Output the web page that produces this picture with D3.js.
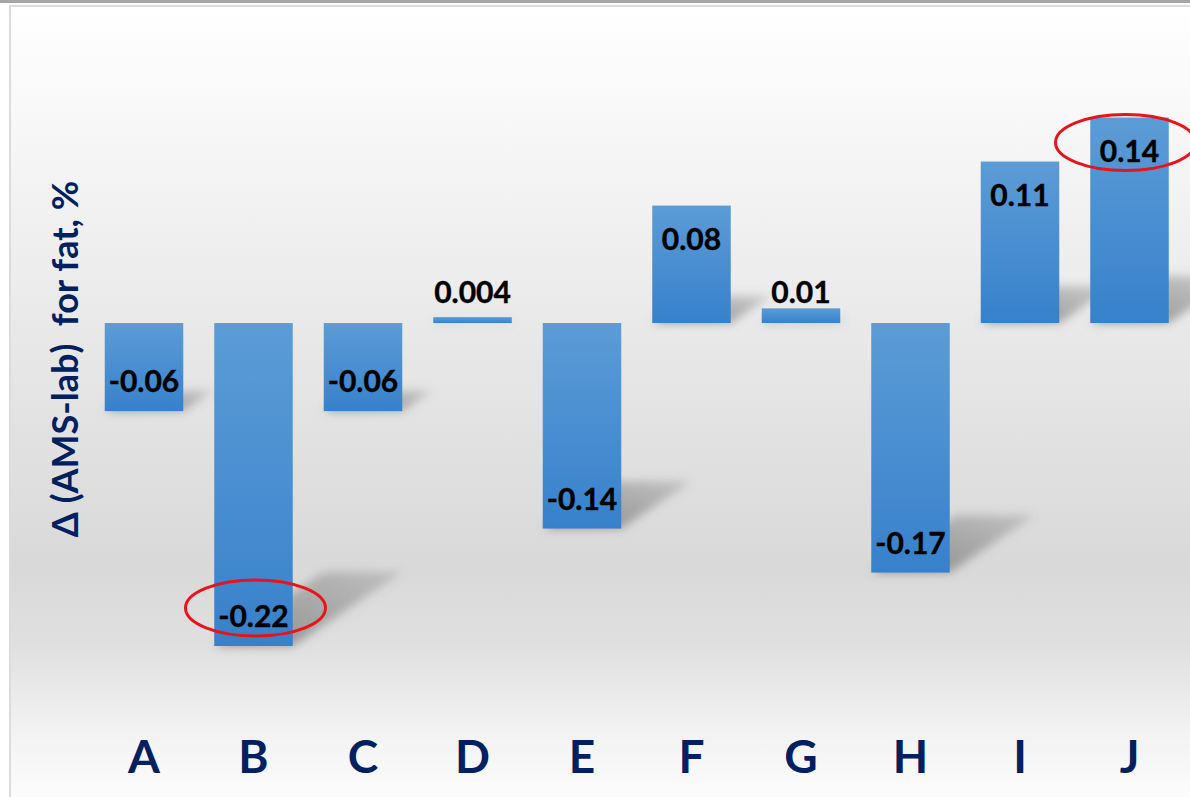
<!DOCTYPE html>
<html><head><meta charset="utf-8">
<script src="https://cdn.jsdelivr.net/npm/d3@7"></script>
<style>
html,body{margin:0;padding:0;background:#fff;overflow:hidden}
svg{display:block}
</style></head>
<body>
<svg id="chart" width="1190" height="797"></svg>
<script>
const categories = ["A","B","C","D","E","F","G","H","I","J"];
const values = [-0.06,-0.22,-0.06,0.004,-0.14,0.08,0.01,-0.17,0.11,0.14];
const valueLabels = ["-0.06","-0.22","-0.06","0.004","-0.14","0.08","0.01","-0.17","0.11","0.14"];
const highlighted = ["B","J"];
const yTitle = "\u0394 (AMS-lab)\u00a0\u00a0for fat, %";

const W = 1190, H = 797;
const svg = d3.select("#chart");
const defs = svg.append("defs");

// background gradient
const bg = defs.append("linearGradient").attr("id","bg").attr("x1",0).attr("y1",0).attr("x2",0).attr("y2",1);
[[0,"#ffffff"],[0.12,"#f9f9f9"],[0.4,"#e9e9e9"],[0.7,"#d9d9d9"],[0.8,"#dfdfdf"],[0.9,"#f1f1f1"],[1,"#fdfdfd"]]
  .forEach(([o,c])=>bg.append("stop").attr("offset",o).attr("stop-color",c));

const barG = defs.append("linearGradient").attr("id","barg").attr("x1",0).attr("y1",0).attr("x2",0).attr("y2",1);
barG.append("stop").attr("offset",0).attr("stop-color","#5c9cd6");
barG.append("stop").attr("offset",1).attr("stop-color","#3781cb");

const shG = defs.append("linearGradient").attr("id","shg").attr("x1",0).attr("y1",1).attr("x2",1).attr("y2",0);
shG.append("stop").attr("offset",0).attr("stop-color","#707070").attr("stop-opacity",0.75);
shG.append("stop").attr("offset",1).attr("stop-color","#707070").attr("stop-opacity",0.25);

const blur = defs.append("filter").attr("id","blur").attr("x","-30%").attr("y","-30%").attr("width","160%").attr("height","160%");
blur.append("feGaussianBlur").attr("stdDeviation",5);

// frame
svg.append("rect").attr("x",0).attr("y",0).attr("width",W).attr("height",3).attr("fill","#a6a6a6");
svg.append("rect").attr("x",10).attr("y",6).attr("width",W).attr("height",H).attr("fill","url(#bg)")
  .attr("stroke","#dcdcdc").attr("stroke-width",2);

// scales
const x = d3.scaleBand().domain(categories).range([89.25,1184.25]).paddingInner(0.283).paddingOuter(0.1415);
const y = d3.scaleLinear().domain([-0.22,0.14]).range([646,117.5]);
const y0 = y(0);

const data = categories.map((c,i)=>({c, v:values[i], label:valueLabels[i]}));

// shadows
const k = 0.23, s = 0.34;
svg.append("g").attr("filter","url(#blur)").selectAll("path").data(data).join("path")
  .attr("d", d=>{
    const x0 = x(d.c), x1 = x0 + x.bandwidth();
    const h = Math.abs(y(d.v)-y0);
    const base = Math.max(y(d.v), y0);
    return `M${x0},${base}L${x1},${base}L${x1+s*h},${base-k*h}L${x0+s*h},${base-k*h}Z`;
  })
  .attr("fill","url(#shg)");

// bars
svg.append("g").selectAll("rect").data(data).join("rect")
  .attr("x", d=>x(d.c))
  .attr("width", x.bandwidth())
  .attr("y", d=>Math.min(y(d.v),y0))
  .attr("height", d=>Math.abs(y(d.v)-y0))
  .attr("fill","url(#barg)");

// value labels
function labelBaseline(d){
  const h = Math.abs(y(d.v)-y0);
  if (d.v >= 0) return h < 50 ? y0 - 20 : y(d.v) + 44;
  return y(d.v) - 19;
}
svg.append("g").selectAll("text").data(data).join("text")
  .attr("x", d=>x(d.c)+x.bandwidth()/2)
  .attr("y", labelBaseline)
  .attr("text-anchor","middle")
  .attr("font-family","Lato, 'Open Sans', sans-serif")
  .attr("font-weight","bold")
  .attr("font-size",30)
  .attr("fill","#000")
  .attr("stroke","#000").attr("stroke-width",0.4)
  .text(d=>d.label);

// highlight ellipses
svg.append("g").selectAll("ellipse").data(data.filter(d=>highlighted.includes(d.c))).join("ellipse")
  .attr("cx", d=>x(d.c)+x.bandwidth()/2 + (d.v < 0 ? 2 : -4))
  .attr("cy", d=>labelBaseline(d)-19)
  .attr("rx", 70)
  .attr("ry", 28)
  .attr("fill","none")
  .attr("stroke","#e8141a")
  .attr("stroke-width",3);

// x axis labels
const xAxis = d3.axisBottom(x).tickSize(0).tickPadding(0);
const gx = svg.append("g").attr("transform","translate(0,738)").call(xAxis);
gx.select(".domain").remove();
gx.selectAll("text")
  .attr("dy", null).attr("y", 35)
  .attr("font-family","Lato, 'Open Sans', sans-serif")
  .attr("font-weight","bold")
  .attr("font-size",46)
  .attr("fill","#002060");

// y title
svg.append("text")
  .attr("transform","translate(78,359) rotate(-90)")
  .attr("text-anchor","middle")
  .attr("font-family","Lato, 'Open Sans', sans-serif")
  .attr("font-weight","bold")
  .attr("font-size",36)
  .attr("fill","#002060")
  .text(yTitle);
</script>
</body></html>
